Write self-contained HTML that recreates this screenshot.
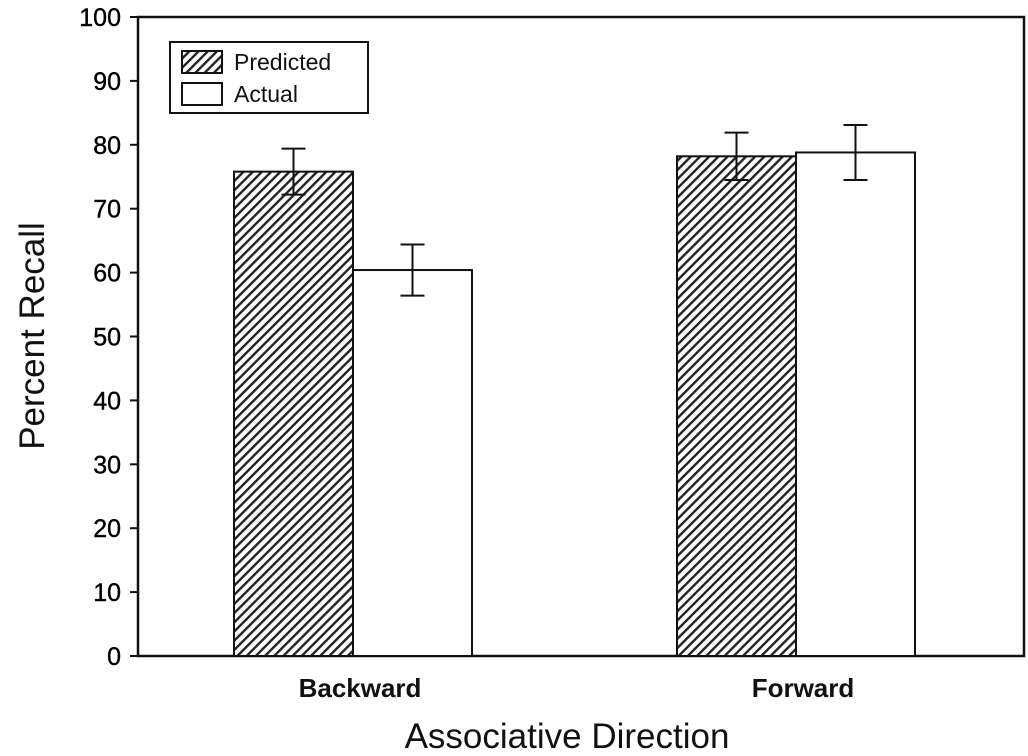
<!DOCTYPE html>
<html><head><meta charset="utf-8"><style>
body{margin:0;background:#fff;}
svg{display:block;font-family:"Liberation Sans",Arial,sans-serif;}
</style></head><body>
<svg id="chart" width="1028" height="756" viewBox="0 0 1028 756">
<defs>
<pattern id="hatch" patternUnits="userSpaceOnUse" width="6.5" height="6.5" patternTransform="rotate(45)">
<rect width="6.5" height="6.5" fill="#fff"/><rect width="2.4" height="6.5" fill="#222"/>
</pattern>
</defs>
</svg>
<script>
const categories = ["Backward", "Forward"];
const seriesNames = ["Predicted", "Actual"];
const predicted = [75.8, 78.2];
const predictedErr = [3.6, 3.7];
const actual = [60.4, 78.8];
const actualErr = [4.0, 4.3];
const yTicks = [0,10,20,30,40,50,60,70,80,90,100];

const svg = document.getElementById('chart');
const NS = 'http://www.w3.org/2000/svg';
const X0 = 138, X1 = 1024, Y0 = 656, Y1 = 17;
const yS = v => Y0 - (v / 100) * (Y0 - Y1);
const groupCenter = i => 353 + i * 443;
const barW = 119;
function mk(tag, attrs, parent) {
  const e = document.createElementNS(NS, tag);
  for (const k in attrs) e.setAttribute(k, attrs[k]);
  (parent || svg).appendChild(e);
  return e;
}
const frame = mk('rect', {x:X0, y:Y1, width:X1-X0, height:Y0-Y1, fill:'none', stroke:'#111', 'stroke-width':2.5});


yTicks.forEach(t => {
  const y = yS(t);
  const tk = mk('line', {x1:130, x2:X0, y1:y, y2:y, stroke:'#111', 'stroke-width':2});
  
  
  const lb = mk('text', {x:121, y:y+9, 'text-anchor':'end', 'font-size':25, fill:'#000', stroke:'#000', 'stroke-width':0.4});
  lb.textContent = t;
  
  
});
function drawBar(i, v, err, left, fill, name) {
  const x = left, y = yS(v);
  const b = mk('rect', {x:x, y:y, width:barW, height:Y0-y, fill:fill, stroke:'#111', 'stroke-width':2});
  
  
  const cx = x + barW/2;
  const g = mk('g', {stroke:'#111', 'stroke-width':2});
  
  
  mk('line', {x1:cx, x2:cx, y1:yS(v+err), y2:yS(v-err)}, g);
  mk('line', {x1:cx-12, x2:cx+12, y1:yS(v+err), y2:yS(v+err)}, g);
  mk('line', {x1:cx-12, x2:cx+12, y1:yS(v-err), y2:yS(v-err)}, g);
}
categories.forEach((c, i) => {
  const cx = groupCenter(i);
  drawBar(i, predicted[i], predictedErr[i], cx - barW, 'url(#hatch)', 'bar-predicted-' + c.toLowerCase());
  drawBar(i, actual[i], actualErr[i], cx, '#fff', 'bar-actual-' + c.toLowerCase());
  const lb = mk('text', {x:cx+7, y:697, 'text-anchor':'middle', 'font-size':26, 'font-weight':'bold', fill:'#111'});
  lb.textContent = c;
  
  
});
const xt = mk('text', {x:567, y:748, 'text-anchor':'middle', 'font-size':35, fill:'#111'});
xt.textContent = 'Associative Direction';


const yt = mk('text', {x:0, y:0, 'text-anchor':'middle', 'font-size':35, fill:'#111', transform:'translate(44,336) rotate(-90)'});
yt.textContent = 'Percent Recall';


const lg = mk('g', {});


mk('rect', {x:170, y:42, width:198, height:71, fill:'#fff', stroke:'#111', 'stroke-width':2}, lg);
const fills = ['url(#hatch)', '#fff'];
seriesNames.forEach((s, i) => {
  const e = mk('g', {}, lg);
  
  
  mk('rect', {x:182, y:51+i*32, width:40, height:22, fill:fills[i], stroke:'#111', 'stroke-width':2}, e);
  const t = mk('text', {x:234, y:70+i*32, 'font-size':23, fill:'#111'}, e);
  t.textContent = s;
});
</script>
</body></html>
